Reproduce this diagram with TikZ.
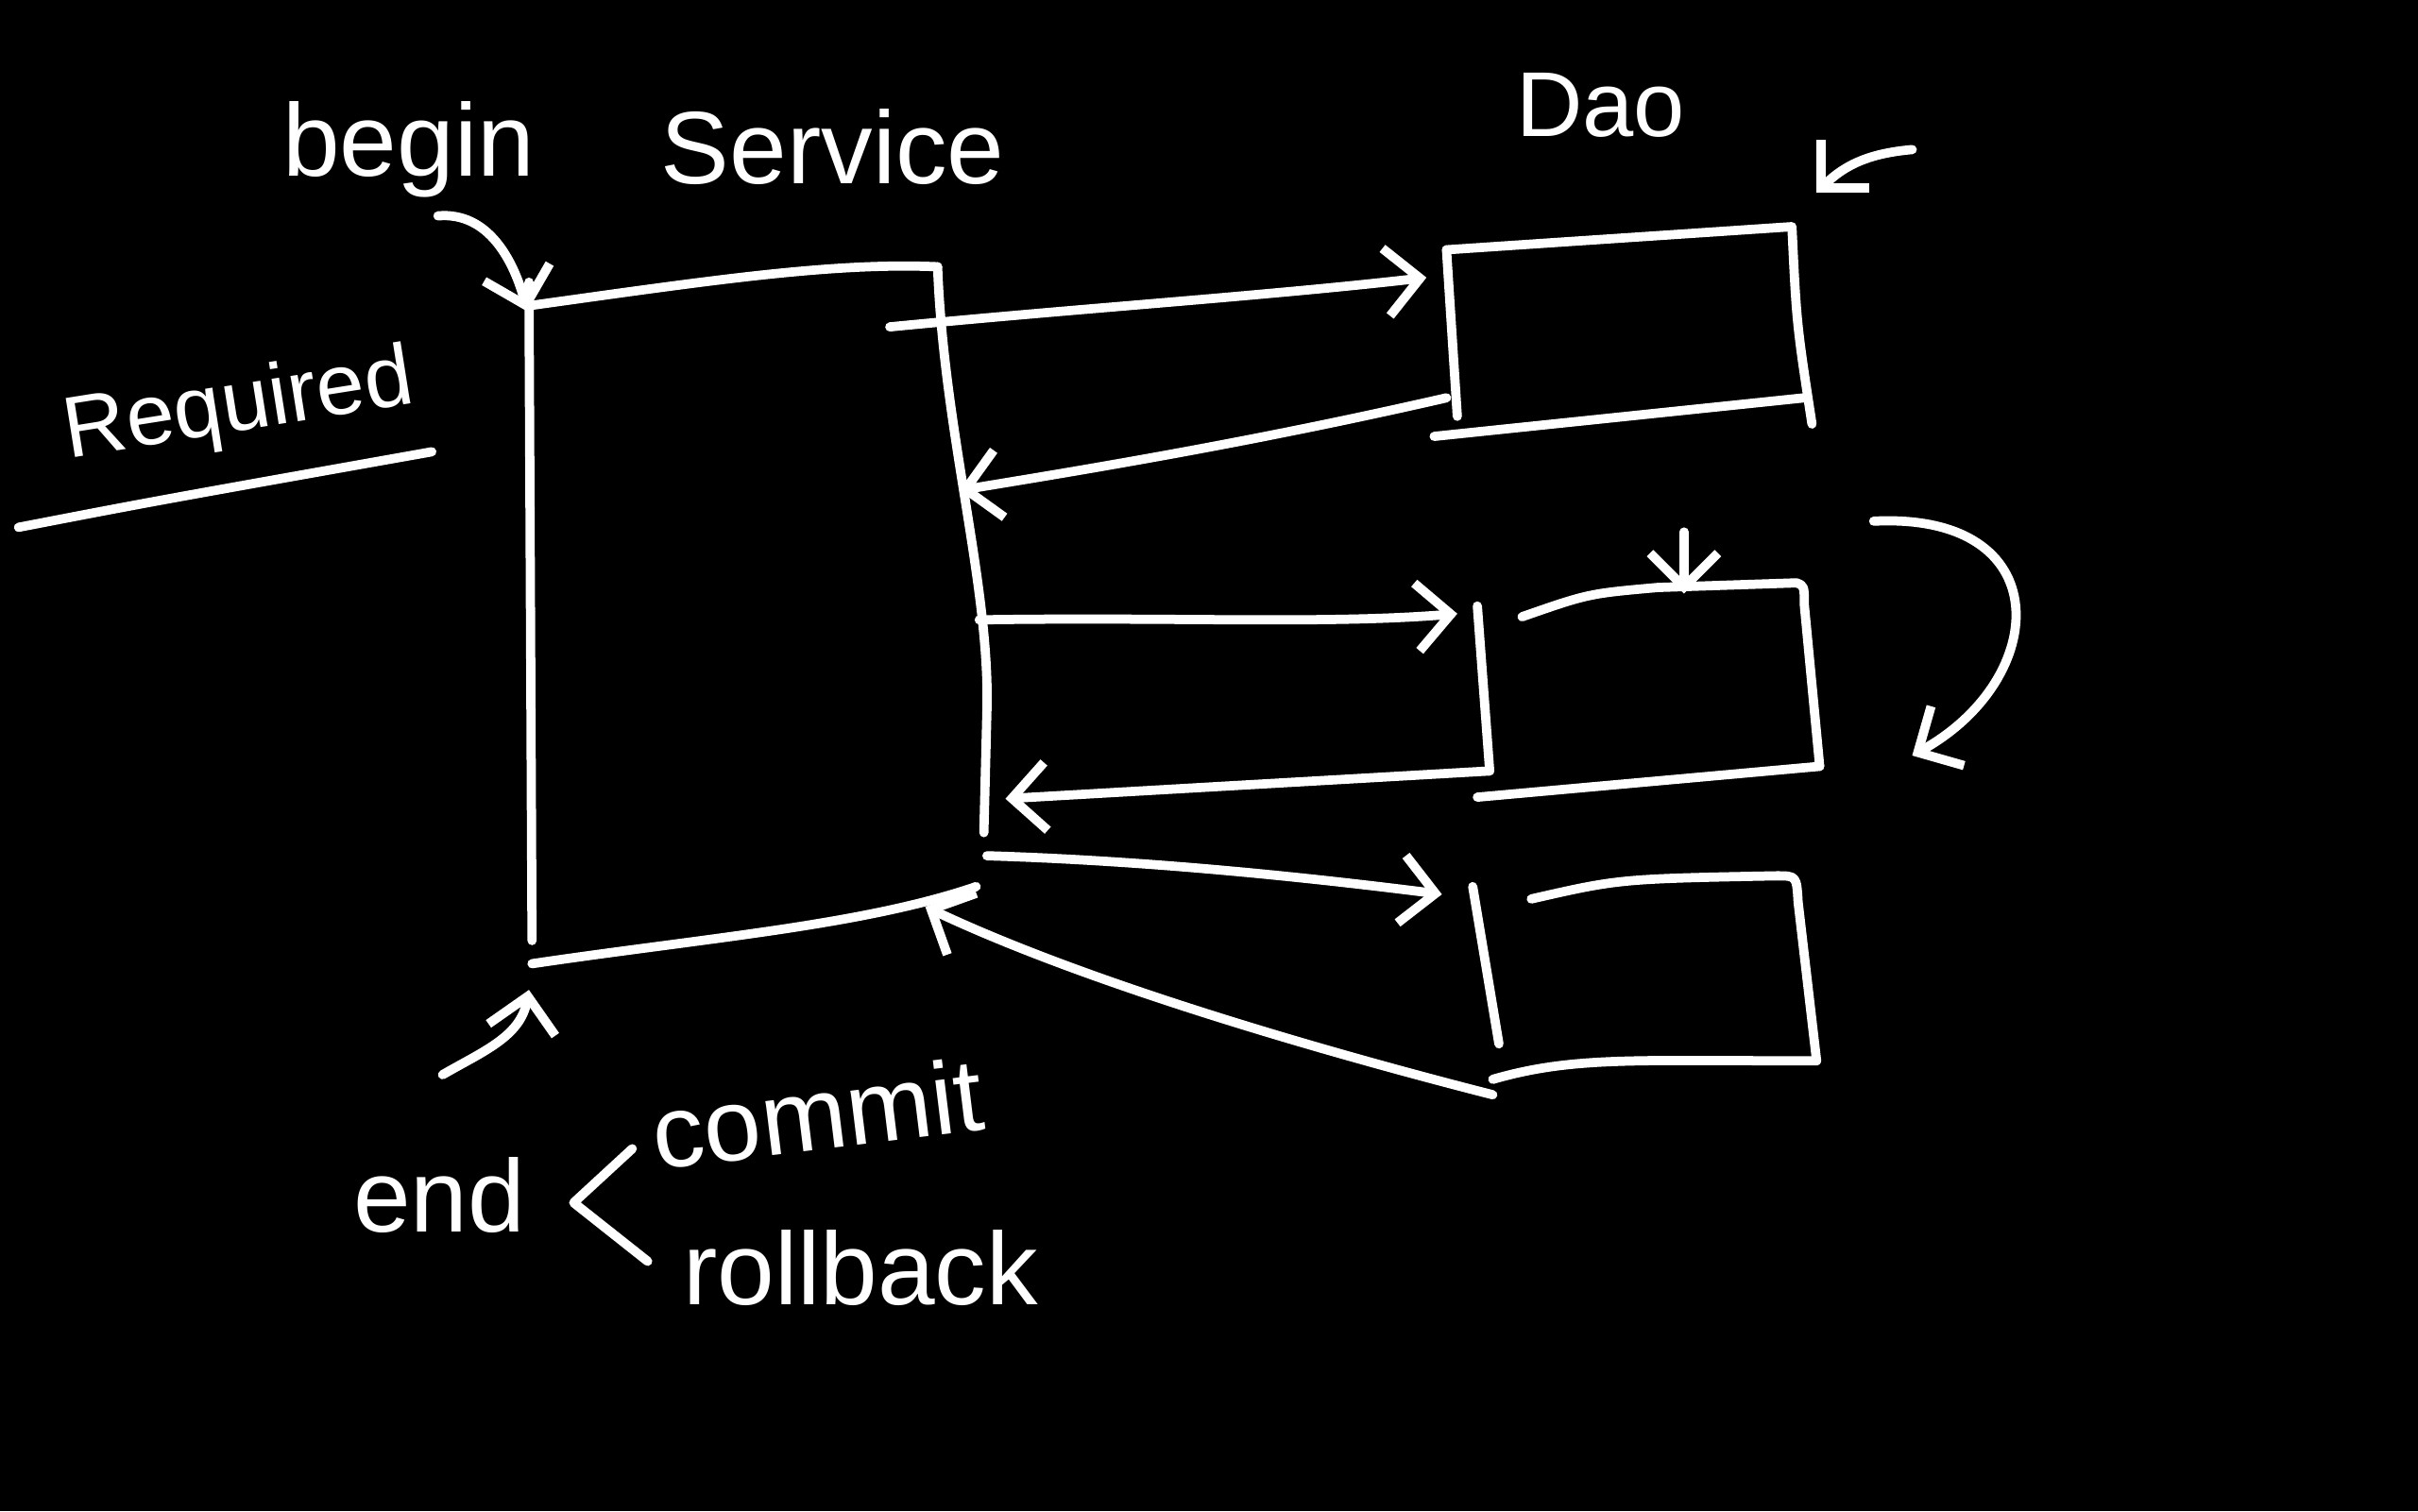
\documentclass[tikz,border=0pt]{standalone}
\usepackage{fontspec}
\setmainfont{Liberation Sans}
\usetikzlibrary{arrows.meta,calc}

\tikzset{
  pen/.style={white, line width=1.7pt, line cap=round, line join=round},
  arr/.style={pen, -{Straight Barb[length=2.2mm,width=4.4mm]}},
  hand/.style={text=white, inner sep=0pt, font=\fontsize{19}{22}\selectfont}
}

\begin{document}
\begin{tikzpicture}
% Board
\fill[black] (0,0) rectangle (15.68,9.8);
\useasboundingbox (0,0) rectangle (15.68,9.8);

% Labels
\node[hand] (begin) at (2.65,8.83) {begin};
\node[hand] (service) at (5.40,8.85) {Service};
\node[hand, font=\fontsize{17}{20}\selectfont] (dao) at (10.38,9.12) {Dao};
\node[hand, font=\fontsize{16}{19}\selectfont, rotate=9] (required) at (1.55,7.15) {Required};
\node[hand] (end) at (2.85,2.05) {end};
\node[hand, rotate=7] (commit) at (5.30,2.58) {commit};
\node[hand] (rollback) at (5.58,1.58) {rollback};

% Service box
\coordinate (svcTL) at (3.45,7.82);
\coordinate (svcTR) at (6.08,8.07);
\coordinate (svcBL) at (3.45,3.55);
\coordinate (svcBR) at (6.33,4.05);
\draw[pen] (3.43,7.97) -- (3.45,3.70);
\draw[pen] (svcTL) .. controls (4.60,7.98) and (5.40,8.10) .. (svcTR);
\draw[pen] (svcTR) .. controls (6.12,7.00) and (6.42,6.00) .. (6.40,5.20) -- (6.38,4.40);
\draw[pen] (svcBL) .. controls (4.60,3.72) and (5.60,3.80) .. (svcBR);

% Dao boxes
\coordinate (d1TL) at (9.38,8.18);
\coordinate (d1TR) at (11.62,8.33);
\coordinate (d1BR) at (11.75,7.05);
\coordinate (d1BL) at (9.45,7.10);
\draw[pen] (d1TL) -- (d1TR) .. controls (11.65,7.70) .. (d1BR);
\draw[pen] (d1TL) -- (d1BL);
\draw[pen] (9.30,6.97) -- (11.70,7.22);

\coordinate (d2L) at (9.58,5.87);
\coordinate (d2BL) at (9.66,4.80);
\coordinate (d2TR) at (11.65,6.02);
\coordinate (d2BR) at (11.80,4.83);
\draw[pen] (d2L) -- (d2BL);
\draw[pen] (9.87,5.80) .. controls (10.30,5.95) .. (10.75,5.99) -- (d2TR) .. controls (11.70,6.00) .. (11.70,5.88) -- (d2BR);
\draw[pen] (9.58,4.63) -- (d2BR);

\coordinate (d3L) at (9.55,4.05);
\coordinate (d3BL) at (9.72,3.03);
\coordinate (d3TR) at (11.52,4.12);
\coordinate (d3BR) at (11.78,2.92);
\draw[pen] (d3L) -- (d3BL);
\draw[pen] (9.93,3.97) .. controls (10.50,4.10) .. (d3TR) .. controls (11.65,4.12) .. (11.66,3.95) -- (d3BR);
\draw[pen] (9.68,2.80) .. controls (10.20,2.95) and (10.60,2.92) .. (d3BR);

% Calls to the Dao layer and the returns
\draw[arr] (5.77,7.68) .. controls (7.00,7.80) and (8.20,7.88) .. (9.25,8.00);
\draw[arr] (9.38,7.22) .. controls (8.20,6.95) and (7.20,6.78) .. (6.22,6.62);
\draw[arr] (6.35,5.78) .. controls (7.60,5.80) and (8.60,5.75) .. (9.45,5.82);
\draw[arr] (d2BL) -- (6.52,4.62);
\draw[arr] (6.40,4.25) .. controls (7.40,4.22) and (8.40,4.12) .. (9.35,4.00);
\draw[arr] (9.68,2.70) .. controls (8.70,2.95) and (7.10,3.40) .. (6.00,3.92);

% Transaction markers
\draw[arr] (2.84,8.40) to[out=5,in=105] (3.42,7.78);
\draw[arr] (2.87,2.83) to[out=30,in=-100] (3.43,3.38);
\draw[pen] (4.10,2.35) -- (3.72,2.00) -- (4.20,1.62);
\draw[pen] (0.12,6.38) .. controls (1.00,6.55) .. (2.80,6.87);

% Extra marks on the right
\draw[arr] (10.92,6.35) -- (10.92,5.95);
\draw[arr] (12.40,8.83) to[out=185,in=45] (11.78,8.55);
\draw[arr] (12.15,6.42) .. controls (13.35,6.48) and (13.30,5.40) .. (12.40,4.90);
\end{tikzpicture}
\end{document}
